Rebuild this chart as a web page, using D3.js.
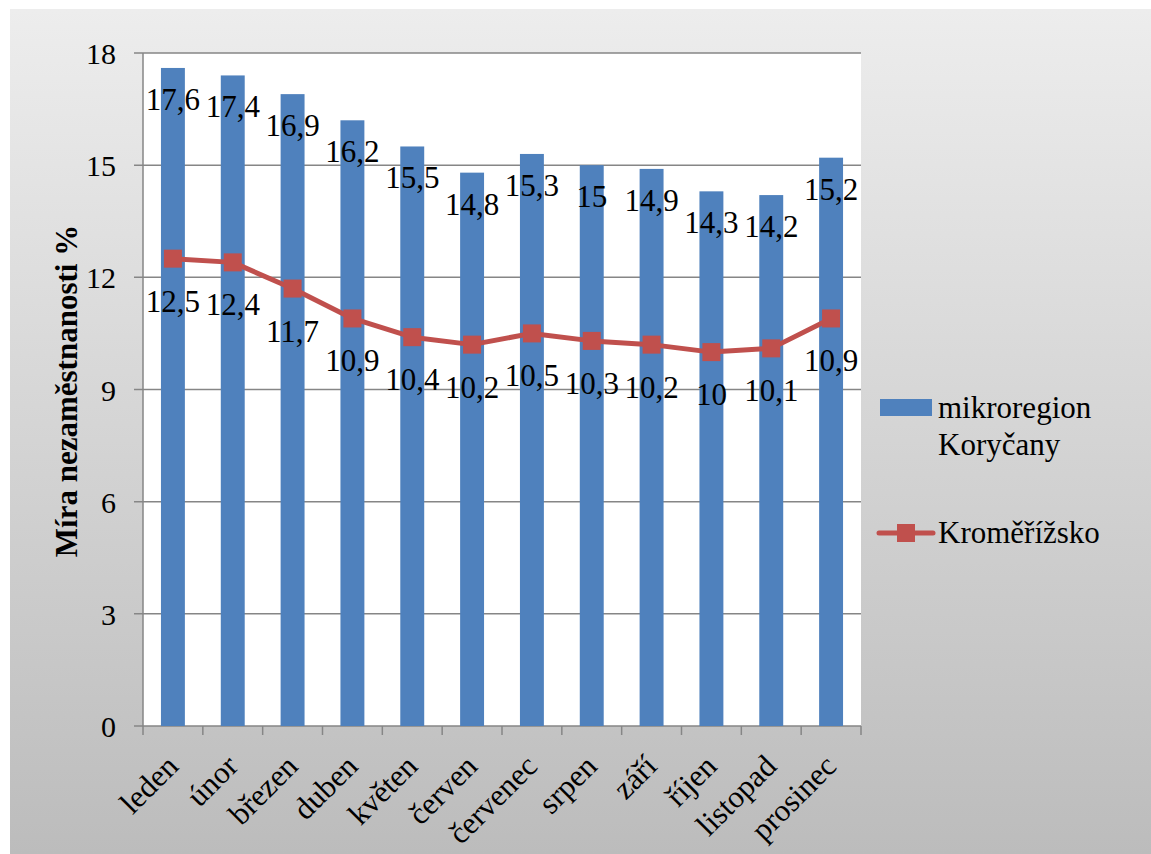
<!DOCTYPE html>
<html>
<head>
<meta charset="utf-8">
<script src="https://cdn.jsdelivr.net/npm/d3@7"></script>
<style>
  body { margin: 0; background: #fff; }
</style>
</head>
<body>
<div id="container"></div>
<script>
const months = ["leden", "únor", "březen", "duben", "květen", "červen", "červenec", "srpen", "září", "říjen", "listopad", "prosinec"];
const korycany = [17.6, 17.4, 16.9, 16.2, 15.5, 14.8, 15.3, 15, 14.9, 14.3, 14.2, 15.2];
const kromeriz = [12.5, 12.4, 11.7, 10.9, 10.4, 10.2, 10.5, 10.3, 10.2, 10, 10.1, 10.9];
const yTicks = [0, 3, 6, 9, 12, 15, 18];
const legendLines = [["mikroregion", "Koryčany"], ["Kroměřížsko"]];

const width = 1151, height = 854;
const plot = { left: 143, right: 861, top: 53, bottom: 726 };
const barColor = "#4f81bd", lineColor = "#c0504d", axisColor = "#868686";
const serif = '"Liberation Serif"';
const fmt = v => String(v).replace(".", ",");

const svg = d3.select("#container").append("svg")
  .attr("width", width).attr("height", height);

// background gradient
const grad = svg.append("defs").append("linearGradient")
  .attr("id", "bg").attr("x1", 0).attr("y1", 0).attr("x2", 0).attr("y2", 1);
grad.append("stop").attr("offset", "0%").attr("stop-color", "#ededed");
grad.append("stop").attr("offset", "100%").attr("stop-color", "#bcbcbc");
svg.append("rect").attr("x", 10).attr("y", 9).attr("width", width - 10).attr("height", height - 9)
  .attr("fill", "url(#bg)");

// plot area
svg.append("rect").attr("x", plot.left).attr("y", plot.top)
  .attr("width", plot.right - plot.left).attr("height", plot.bottom - plot.top).attr("fill", "#fff");

const x = d3.scaleBand().domain(months).range([plot.left, plot.right])
  .paddingInner(0.6).paddingOuter(0.3);
const y = d3.scaleLinear().domain([0, 18]).range([plot.bottom, plot.top]);
const cx = d => x(d) + x.bandwidth() / 2;

// gridlines
svg.append("g").selectAll("line").data(yTicks).enter().append("line")
  .attr("x1", plot.left - 9).attr("x2", plot.right)
  .attr("y1", d => y(d)).attr("y2", d => y(d))
  .attr("stroke", axisColor).attr("stroke-width", 1.5);

// y axis line
svg.append("line").attr("x1", plot.left).attr("x2", plot.left)
  .attr("y1", plot.top).attr("y2", plot.bottom)
  .attr("stroke", axisColor).attr("stroke-width", 1.5);

// y tick labels
svg.append("g").selectAll("text").data(yTicks).enter().append("text")
  .attr("x", 116).attr("y", d => y(d) + 11)
  .attr("text-anchor", "end").attr("font-family", serif).attr("font-size", 30)
  .text(d => d);

// x tick marks at category boundaries
const gap = (x.step() - x.bandwidth()) / 2;
const bounds = months.map(m => x(m) - gap).concat([x(months[11]) + x.bandwidth() + gap]);
svg.append("g").selectAll("line").data(bounds).enter().append("line")
  .attr("x1", d => d).attr("x2", d => d)
  .attr("y1", plot.bottom).attr("y2", plot.bottom + 9)
  .attr("stroke", axisColor).attr("stroke-width", 1.5);

// x labels
svg.append("g").selectAll("text").data(months).enter().append("text")
  .attr("transform", d => `translate(${cx(d) + 7},${plot.bottom + 42}) rotate(-45)`)
  .attr("text-anchor", "end").attr("font-family", serif).attr("font-size", 31)
  .text(d => d);

// bars
svg.append("g").selectAll("rect").data(months).enter().append("rect")
  .attr("x", d => x(d)).attr("width", x.bandwidth())
  .attr("y", (d, i) => y(korycany[i]))
  .attr("height", (d, i) => y(0) - y(korycany[i]))
  .attr("fill", barColor);

// bar labels
svg.append("g").selectAll("text").data(months).enter().append("text")
  .attr("x", d => cx(d)).attr("y", (d, i) => y(korycany[i]) + 42)
  .attr("text-anchor", "middle").attr("font-family", serif).attr("font-size", 31)
  .text((d, i) => fmt(korycany[i]));

// line
const line = d3.line().x((d, i) => cx(months[i])).y(d => y(d));
svg.append("path").datum(kromeriz).attr("d", line)
  .attr("fill", "none").attr("stroke", lineColor).attr("stroke-width", 5)
  .attr("stroke-linejoin", "round");
svg.append("g").selectAll("rect").data(kromeriz).enter().append("rect")
  .attr("x", (d, i) => cx(months[i]) - 9).attr("y", d => y(d) - 9)
  .attr("width", 18).attr("height", 18).attr("fill", lineColor);

// line labels
svg.append("g").selectAll("text").data(kromeriz).enter().append("text")
  .attr("x", (d, i) => cx(months[i])).attr("y", d => y(d) + 53)
  .attr("text-anchor", "middle").attr("font-family", serif).attr("font-size", 31)
  .text(d => fmt(d));

// y title
svg.append("text")
  .attr("transform", "translate(77,391) rotate(-90)")
  .attr("text-anchor", "middle").attr("font-family", serif)
  .attr("font-size", 31).attr("font-weight", "bold")
  .text("Míra nezaměstnanosti %");

// legend
const lg = svg.append("g").attr("font-family", serif).attr("font-size", 31);
lg.append("rect").attr("x", 880).attr("y", 399).attr("width", 52).attr("height", 17).attr("fill", barColor);
lg.append("text").attr("x", 938).attr("y", 418).text(legendLines[0][0]);
lg.append("text").attr("x", 938).attr("y", 455).text(legendLines[0][1]);
lg.append("line").attr("x1", 879).attr("x2", 933).attr("y1", 533).attr("y2", 533)
  .attr("stroke", lineColor).attr("stroke-width", 5).attr("stroke-linecap", "round");
lg.append("rect").attr("x", 897).attr("y", 524).attr("width", 18).attr("height", 18).attr("fill", lineColor);
lg.append("text").attr("x", 938).attr("y", 543).text(legendLines[1][0]);
</script>
</body>
</html>
